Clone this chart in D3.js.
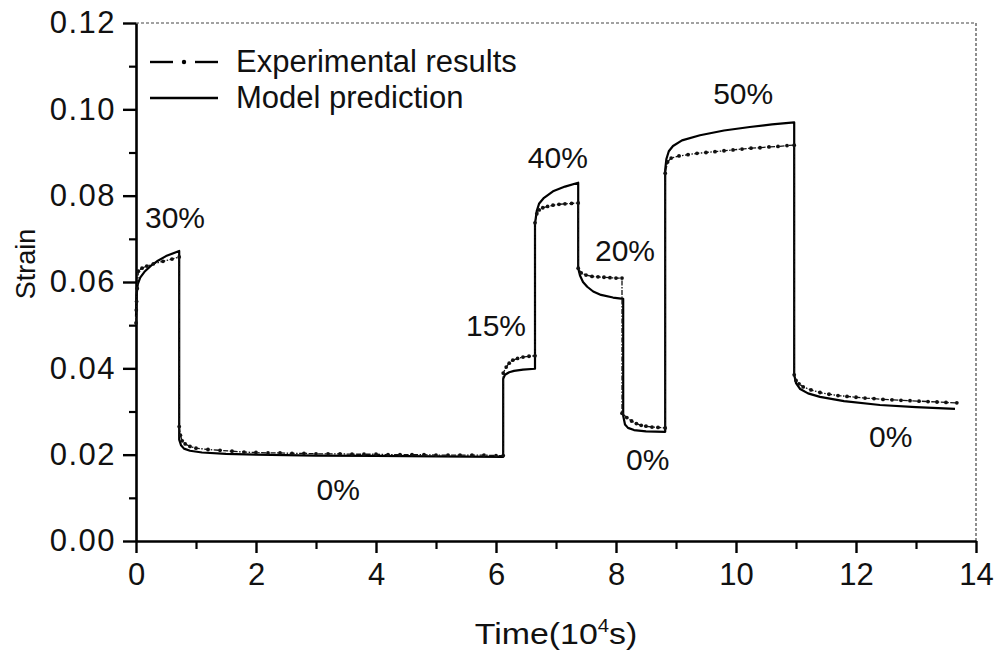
<!DOCTYPE html>
<html>
<head>
<meta charset="utf-8">
<script src="https://cdn.jsdelivr.net/npm/d3@7"></script>
<style>
  body { margin: 0; background: #fff; }
  text { font-family: "Liberation Sans", Arial, sans-serif; fill: #111; }
</style>
</head>
<body>
<div id="chart"></div>
<script>
// model prediction (solid line), time in 10^4 s
const modelTime = [
  0, 0.01, 0.03, 0.07, 0.15, 0.25, 0.35, 0.5, 0.72,
  0.72, 0.75, 0.8, 0.9, 1.1, 1.5, 2, 3, 4, 5, 6.12,
  6.12, 6.15, 6.22, 6.3, 6.45, 6.65,
  6.65, 6.68, 6.72, 6.8, 6.95, 7.15, 7.37,
  7.37, 7.4, 7.45, 7.52, 7.62, 7.75, 7.95, 8.12,
  8.12, 8.15, 8.2, 8.3, 8.5, 8.82,
  8.82, 8.84, 8.88, 8.95, 9.1, 9.4, 9.8, 10.23, 10.6, 10.97,
  10.97, 11.0, 11.07, 11.2, 11.4, 11.8, 12.4, 13.0, 13.65
];
const modelStrain = [
  0.052, 0.057, 0.0595, 0.061, 0.0625, 0.0638, 0.0648, 0.066, 0.0672,
  0.0235, 0.0222, 0.0214, 0.0209, 0.0205, 0.0202, 0.0200, 0.0198, 0.0197, 0.0196, 0.0195,
  0.0376, 0.0385, 0.0391, 0.0394, 0.0397, 0.0399,
  0.0735, 0.0765, 0.0782, 0.0795, 0.0810, 0.0821, 0.0830,
  0.0632, 0.0615, 0.0600, 0.0589, 0.0578, 0.0570, 0.0564, 0.0561,
  0.0290, 0.0270, 0.0262, 0.0257, 0.0254, 0.0253,
  0.0860, 0.0885, 0.0903, 0.0915, 0.0928, 0.0940, 0.0951, 0.0959, 0.0965, 0.0970,
  0.0385, 0.0366, 0.0352, 0.0342, 0.0334, 0.0324, 0.0315, 0.0310, 0.0306
];

// experimental results (dash-dot line with dots)
const expTime = [
  0, 0.005, 0.01, 0.02, 0.04, 0.1, 0.18, 0.29, 0.45, 0.6, 0.72,
  0.72, 0.74, 0.77, 0.82, 0.9, 1.0, 1.2, 1.4, 1.6, 1.8, 2.0, 2.2, 2.4, 2.6, 2.8, 3.0,
  3.2, 3.4, 3.6, 3.8, 4.0, 4.2, 4.4, 4.6, 4.8, 5.0, 5.2, 5.4, 5.6, 5.8, 6.0, 6.12,
  6.12, 6.17, 6.22, 6.28, 6.36, 6.45, 6.55, 6.65,
  6.65, 6.68, 6.72, 6.78, 6.86, 6.95, 7.05, 7.15, 7.26, 7.37,
  7.37, 7.42, 7.5, 7.6, 7.7, 7.8, 7.9, 8.0, 8.1,
  8.1, 8.18, 8.26, 8.34, 8.42, 8.5, 8.6, 8.7, 8.82,
  8.82, 8.86, 8.92, 9.05, 9.2, 9.35, 9.5, 9.65, 9.8, 9.95, 10.1, 10.25, 10.4, 10.55, 10.7, 10.85, 10.97,
  10.97, 11.0, 11.05, 11.12, 11.25, 11.4, 11.55, 11.7, 11.85, 12.0, 12.15, 12.3, 12.45, 12.6, 12.75,
  12.9, 13.05, 13.2, 13.35, 13.5, 13.68
];
const expStrain = [
  0.0505, 0.0535, 0.0555, 0.0585, 0.0625, 0.0632, 0.0637, 0.0642, 0.0648, 0.0653, 0.0658,
  0.0265, 0.0245, 0.0232, 0.0225, 0.0219, 0.0215, 0.0212, 0.0210, 0.0208, 0.0206, 0.0205, 0.0204, 0.0204, 0.0203, 0.0203, 0.0202,
  0.0202, 0.0202, 0.0201, 0.0201, 0.0201, 0.0200, 0.0200, 0.0200, 0.0200, 0.0199, 0.0199, 0.0199, 0.0199, 0.0199, 0.0198, 0.0198,
  0.0389, 0.0403, 0.0412, 0.0419, 0.0423, 0.0426, 0.0428, 0.0429,
  0.0737, 0.0758, 0.0767, 0.0772, 0.0775, 0.0778, 0.0780, 0.0781, 0.0782, 0.0783,
  0.0632, 0.0621, 0.0616, 0.0613, 0.0612, 0.0611, 0.0610, 0.0609, 0.0609,
  0.0296, 0.0286, 0.0278, 0.0272, 0.0268, 0.0266, 0.0264, 0.0263, 0.0262,
  0.0852, 0.0878, 0.0887, 0.0892, 0.0895, 0.0898, 0.0900, 0.0902, 0.0904, 0.0906, 0.0908, 0.0910, 0.0911, 0.0913, 0.0914, 0.0916, 0.0917,
  0.0385, 0.0372, 0.0364, 0.0357, 0.0350, 0.0344, 0.0340, 0.0337, 0.0335, 0.0333, 0.0331, 0.0330, 0.0328, 0.0327, 0.0326,
  0.0325, 0.0324, 0.0323, 0.0322, 0.0321, 0.0320
];

// stress level labels
const stepLabels = ["30%", "0%", "15%", "40%", "20%", "0%", "50%", "0%"];
const stepLabelTime = [0.65, 3.37, 6.0, 7.03, 8.15, 8.53, 10.12, 12.58];
const stepLabelStrain = [0.0725, 0.0095, 0.0475, 0.0864, 0.0648, 0.0165, 0.1012, 0.0217];

const xTicks = [0, 2, 4, 6, 8, 10, 12, 14];
const yTicks = [0, 0.02, 0.04, 0.06, 0.08, 0.10, 0.12];

const width = 997, height = 656;
const margin = {top: 23, right: 21, bottom: 115, left: 136};

const svg = d3.select('#chart').append('svg')
  .attr('width', width)
  .attr('height', height);

const x = d3.scaleLinear().domain([0, 14]).range([margin.left, width - margin.right]);
const y = d3.scaleLinear().domain([0, 0.12]).range([height - margin.bottom, margin.top]);

const plot = svg.append('g');

// dashed frame top/right
plot.append('path')
  .attr('d', `M${x(0)},${y(0.12)}H${x(14)}V${y(0)}`)
  .attr('fill', 'none')
  .attr('stroke', '#444')
  .attr('stroke-width', 1.2)
  .attr('stroke-dasharray', '3,2');

// minor ticks
plot.append('g')
  .attr('transform', `translate(0,${y(0)})`)
  .call(d3.axisBottom(x).tickValues(d3.range(1, 14, 2)).tickSize(8).tickFormat(''))
  .call(g => g.select('.domain').remove())
  .selectAll('line').attr('stroke-width', 2.2).attr('stroke', '#000');
plot.append('g')
  .attr('transform', `translate(${x(0)},0)`)
  .call(d3.axisLeft(y).tickValues([0.01, 0.03, 0.05, 0.07, 0.09, 0.11]).tickSize(7).tickFormat(''))
  .call(g => g.select('.domain').remove())
  .selectAll('line').attr('stroke-width', 2.2).attr('stroke', '#000');

// major axes
const xAxis = plot.append('g')
  .attr('transform', `translate(0,${y(0)})`)
  .call(d3.axisBottom(x).tickValues(xTicks).tickSize(12).tickSizeOuter(0).tickPadding(10).tickFormat(d3.format('d')));
const yAxis = plot.append('g')
  .attr('transform', `translate(${x(0)},0)`)
  .call(d3.axisLeft(y).tickValues(yTicks).tickSize(13).tickSizeOuter(0).tickPadding(5).tickFormat(d3.format('.2f')));

[xAxis, yAxis].forEach(a => {
  a.select('.domain').attr('stroke', '#000').attr('stroke-width', 2.6);
  a.selectAll('.tick line').attr('stroke', '#000').attr('stroke-width', 2.4);
  a.selectAll('.tick text')
    .attr('fill', '#111')
    .style('font-family', '"Liberation Sans", Arial, sans-serif')
    .style('font-size', '31px');
});
yAxis.selectAll('.tick text').attr('letter-spacing', '1.5px').attr('dx', '-2');

// model prediction
const modelData = modelTime.map((t, i) => [t, modelStrain[i]]);
const expData = expTime.map((t, i) => [t, expStrain[i]]);
const line = d3.line().x(d => x(d[0])).y(d => y(d[1]));

plot.append('path')
  .datum(modelData)
  .attr('d', line)
  .attr('fill', 'none')
  .attr('stroke', '#000')
  .attr('stroke-width', 2.2)
  .attr('stroke-linejoin', 'round');

plot.append('path')
  .datum(expData)
  .attr('d', line)
  .attr('fill', 'none')
  .attr('stroke', '#111')
  .attr('stroke-width', 1.3)
  .attr('stroke-dasharray', '5,1.5,1.5,1.5');

plot.selectAll('.dot')
  .data(expData)
  .enter()
  .append('circle')
  .attr('class', 'dot')
  .attr('cx', d => x(d[0]))
  .attr('cy', d => y(d[1]))
  .attr('r', 1.9)
  .attr('fill', '#111');

// step labels
plot.selectAll('.step')
  .data(stepLabels)
  .enter()
  .append('text')
  .attr('class', 'step')
  .attr('x', (d, i) => x(stepLabelTime[i]))
  .attr('y', (d, i) => y(stepLabelStrain[i]))
  .attr('text-anchor', 'middle')
  .style('font-size', '30px')
  .text(d => d);

// legend
const legend = svg.append('g').attr('transform', 'translate(150,62)');
legend.append('line')
  .attr('x1', 0).attr('x2', 23).attr('y1', 0).attr('y2', 0)
  .attr('stroke', '#000').attr('stroke-width', 2.4);
legend.append('line')
  .attr('x1', 45).attr('x2', 68).attr('y1', 0).attr('y2', 0)
  .attr('stroke', '#000').attr('stroke-width', 2.4);
legend.append('circle').attr('cx', 34).attr('cy', 0).attr('r', 2.2).attr('fill', '#000');
legend.append('text').attr('x', 86).attr('y', 10).style('font-size', '31px').text('Experimental results');
legend.append('line')
  .attr('x1', 0).attr('x2', 68).attr('y1', 36).attr('y2', 36)
  .attr('stroke', '#000').attr('stroke-width', 2.4);
legend.append('text').attr('x', 86).attr('y', 46).style('font-size', '31px').text('Model prediction');

// axis titles
const xt = svg.append('text')
  .attr('transform', 'translate(556,644) scale(1.13,1)')
  .attr('text-anchor', 'middle')
  .style('font-size', '30px');
xt.append('tspan').text('Time(10');
xt.append('tspan').attr('dy', -12).style('font-size', '18px').text('4');
xt.append('tspan').attr('dy', 12).text('s)');

svg.append('text')
  .attr('transform', 'translate(35,264) rotate(-90)')
  .attr('text-anchor', 'middle')
  .style('font-size', '27px')
  .text('Strain');
</script>
</body>
</html>
